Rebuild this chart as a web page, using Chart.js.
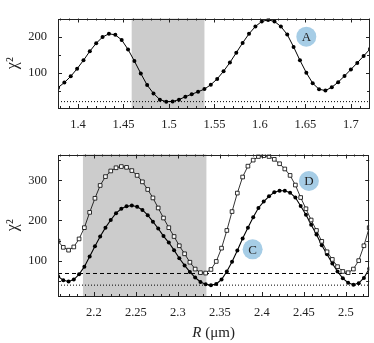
<!DOCTYPE html>
<html>
<head>
<meta charset="utf-8">
<script src="https://cdn.jsdelivr.net/npm/chart.js@4"></script>
<style>
  html, body { margin: 0; padding: 0; background: #fff; }
  #wrap { position: relative; width: 374px; height: 343px; }
  canvas { position: absolute; left: 0; }
</style>
</head>
<body>
<div id="wrap">
  <canvas id="topChart" width="374" height="136" style="top:0"></canvas>
  <canvas id="bottomChart" width="374" height="207" style="top:136px"></canvas>
</div>
<script>
// top panel (A)
const topR = [1.378, 1.385, 1.392, 1.399, 1.406, 1.413, 1.420, 1.427, 1.434, 1.441,
              1.448, 1.455, 1.462, 1.469, 1.476, 1.483, 1.490, 1.497, 1.504, 1.511,
              1.518, 1.525, 1.532, 1.539, 1.546, 1.553, 1.560, 1.567, 1.574, 1.581,
              1.588, 1.595, 1.602, 1.609, 1.616, 1.623, 1.630, 1.637, 1.644, 1.651,
              1.658, 1.665, 1.672, 1.679, 1.686, 1.693, 1.700, 1.707, 1.714, 1.721];
const chiA = [60, 74, 91, 112, 135, 160, 182, 199, 208, 205,
              191, 165, 133, 99, 67, 44, 27, 21.5, 22, 27,
              35, 42, 48.5, 56, 68, 84, 105, 129, 156, 183,
              208, 228, 242, 246, 242, 228, 206, 172, 135, 101,
              72, 55.5, 52, 61, 75, 92, 110, 128, 147, 166];
const topLevel = 21.5;
const topBand = [1.459, 1.539];

// bottom panel (C, D)
const botR = [2.1573, 2.1636, 2.1699, 2.1761, 2.1824, 2.1887, 2.1950, 2.2013, 2.2075, 2.2138,
              2.2201, 2.2264, 2.2327, 2.2389, 2.2452, 2.2515, 2.2578, 2.2641, 2.2703, 2.2766,
              2.2829, 2.2892, 2.2955, 2.3017, 2.3080, 2.3143, 2.3206, 2.3269, 2.3331, 2.3394,
              2.3457, 2.3520, 2.3583, 2.3645, 2.3708, 2.3771, 2.3834, 2.3897, 2.3959, 2.4022,
              2.4085, 2.4148, 2.4211, 2.4273, 2.4336, 2.4399, 2.4462, 2.4525, 2.4587, 2.4650,
              2.4713, 2.4776, 2.4839, 2.4901, 2.4964, 2.5027, 2.5090, 2.5153, 2.5215, 2.5278];
const chiC = [61, 51, 48, 53, 66, 85, 110, 136, 160, 182,
              201, 218, 229, 235, 237, 234, 226, 213, 197, 180,
              161, 145, 126, 106, 88, 72, 58, 47, 41, 39,
              42, 53, 73, 97, 125, 155, 182, 208, 231, 247,
              260, 270, 274, 274, 269, 257, 236, 214, 189, 165,
              138, 116, 93, 73, 56, 45, 40, 44, 57, 80];
const chiD = [148.5, 133, 126, 134, 154, 182, 220, 255, 287, 309,
              323, 331, 334, 332, 324, 312, 296, 277, 256, 231,
              206, 182, 160, 137, 117, 96, 79, 70, 69, 78,
              98, 131, 175, 222, 268, 308, 335, 350, 359, 361,
              359, 352, 341, 328, 312, 288, 257, 229, 201, 175,
              148, 122, 103, 85, 73, 70, 79, 100, 137, 182];
const dashLevel = 68;
const dotLevel = 39;
const botBand = [2.187, 2.334];

const serif = "'Liberation Serif', 'DejaVu Serif', serif";
const ink = '#222';

function pts(xs, ys) {
  return xs.map((x, i) => ({ x: x, y: ys[i] }));
}

// shaded band, frame with inward ticks, round badges
const framePlugin = {
  id: 'frame',
  beforeDatasetsDraw(chart, args, o) {
    const { ctx, chartArea: a, scales: { x } } = chart;
    const l = x.getPixelForValue(o.band[0]);
    const r = x.getPixelForValue(o.band[1]);
    ctx.save();
    ctx.fillStyle = '#cccccc';
    ctx.fillRect(l, a.top, r - l, a.bottom - a.top);
    ctx.restore();
  },
  afterDatasetsDraw(chart, args, o) {
    const { ctx, chartArea: a, scales: { x, y } } = chart;
    ctx.save();
    // badges
    o.badges.forEach(b => {
      const px = x.getPixelForValue(b.x), py = y.getPixelForValue(b.y);
      ctx.fillStyle = '#a6cde6';
      ctx.beginPath();
      ctx.arc(px, py, 10, 0, Math.PI * 2);
      ctx.fill();
      ctx.fillStyle = ink;
      ctx.font = '13px ' + serif;
      ctx.textAlign = 'center';
      ctx.textBaseline = 'middle';
      ctx.fillText(b.text, px, py + 1);
    });
    // frame
    ctx.strokeStyle = ink;
    ctx.lineWidth = 1;
    ctx.strokeRect(Math.round(a.left) + 0.5, Math.round(a.top) + 0.5,
                   Math.round(a.right - a.left) - 1, Math.round(a.bottom - a.top) - 1);
    ctx.beginPath();
    let k0 = Math.ceil(x.min / o.xMinor - 1e-6);
    for (let k = k0; k * o.xMinor <= x.max + 1e-9; k++) {
      const v = k * o.xMinor;
      const major = Math.abs(v / o.xMajor - Math.round(v / o.xMajor)) < 1e-6;
      const len = major ? 4 : 2;
      const px = Math.round(x.getPixelForValue(v)) + 0.5;
      ctx.moveTo(px, a.bottom); ctx.lineTo(px, a.bottom - len);
      ctx.moveTo(px, a.top); ctx.lineTo(px, a.top + len);
    }
    k0 = Math.ceil(y.min / o.yMinor - 1e-6);
    for (let k = k0; k * o.yMinor <= y.max + 1e-9; k++) {
      const v = k * o.yMinor;
      const major = Math.abs(v / o.yMajor - Math.round(v / o.yMajor)) < 1e-6;
      const len = major ? 4 : 3;
      const py = Math.round(y.getPixelForValue(v)) + 0.5;
      ctx.moveTo(a.left, py); ctx.lineTo(a.left + len, py);
      ctx.moveTo(a.right, py); ctx.lineTo(a.right - len, py);
    }
    ctx.stroke();
    // x axis title
    if (o.xTitle) {
      ctx.fillStyle = ink;
      ctx.textBaseline = 'middle';
      ctx.textAlign = 'left';
      const it = 'italic 15px ' + serif, up = '15px ' + serif;
      ctx.font = it;
      const w1 = ctx.measureText('R').width;
      ctx.font = up;
      const w2 = ctx.measureText(' (μm)').width;
      const cx = (a.left + a.right) / 2 - (w1 + w2) / 2;
      const cy = a.bottom + o.xTitleGap;
      ctx.font = it;
      ctx.fillText('R', cx, cy);
      ctx.font = up;
      ctx.fillText(' (μm)', cx + w1, cy);
    }
    ctx.restore();
  }
};

function makeOptions(xMin, xMax, yMin, yMax, xAxisHeight, padTop, frameOpts) {
  return {
    responsive: false,
    animation: false,
    devicePixelRatio: 1,
    layout: { padding: { left: 0, right: 3, top: padTop, bottom: 0 } },
    plugins: { legend: { display: false }, tooltip: { enabled: false }, frame: frameOpts },
    scales: {
      x: {
        type: 'linear', min: xMin, max: xMax,
        grid: { display: false, drawTicks: false }, border: { display: false },
        ticks: {
          stepSize: 0.05, includeBounds: false, autoSkip: false, maxRotation: 0,
          padding: 9, color: ink, font: { family: serif, size: 12.5 },
          callback: v => String(+v.toFixed(2))
        },
        afterFit: s => { s.height = xAxisHeight; }
      },
      y: {
        type: 'linear', min: yMin, max: yMax,
        grid: { display: false, drawTicks: false }, border: { display: false },
        ticks: { stepSize: 100, includeBounds: false, padding: 11, color: ink, font: { family: serif, size: 12.5 } },
        title: { display: true, text: 'χ²', color: ink, font: { family: serif, size: 16 }, padding: { top: 3, bottom: 0 } },
        afterFit: s => { s.width = 58; }
      }
    }
  };
}

new Chart(document.getElementById('topChart'), {
  type: 'line',
  data: {
    datasets: [
      { data: pts(topR, chiA), borderColor: '#000', borderWidth: 1, pointRadius: 2,
        pointBackgroundColor: '#000', pointBorderWidth: 0 },
      { data: [{ x: topR[0], y: topLevel }, { x: topR[topR.length - 1], y: topLevel }],
        borderColor: '#000', borderWidth: 1, borderDash: [1, 2], pointRadius: 0 }
    ]
  },
  options: makeOptions(1.378, 1.721, 4, 250, 28, 1, {
    band: topBand, xMinor: 0.01, xMajor: 0.05, yMinor: 50, yMajor: 100,
    badges: [{ x: 1.651, y: 200, text: 'A' }]
  }),
  plugins: [framePlugin]
});

new Chart(document.getElementById('bottomChart'), {
  type: 'line',
  data: {
    datasets: [
      { data: pts(botR, chiD), borderColor: '#000', borderWidth: 0.8, pointStyle: 'rect',
        pointRadius: 2.6, pointBackgroundColor: '#fff', pointBorderColor: '#000', pointBorderWidth: 0.8 },
      { data: pts(botR, chiC), borderColor: '#000', borderWidth: 1.1, pointRadius: 2,
        pointBackgroundColor: '#000', pointBorderWidth: 0 },
      { data: [{ x: botR[0], y: dashLevel }, { x: botR[botR.length - 1], y: dashLevel }],
        borderColor: '#000', borderWidth: 1, borderDash: [4, 3], pointRadius: 0 },
      { data: [{ x: botR[0], y: dotLevel }, { x: botR[botR.length - 1], y: dotLevel }],
        borderColor: '#000', borderWidth: 1, borderDash: [1, 2], pointRadius: 0 }
    ]
  },
  options: makeOptions(2.1573, 2.5278, 12, 364, 47, 12, {
    band: botBand, xMinor: 0.01, xMajor: 0.05, yMinor: 50, yMajor: 100,
    badges: [{ x: 2.389, y: 128, text: 'C' }, { x: 2.456, y: 298, text: 'D' }],
    xTitle: true, xTitleGap: 37
  }),
  plugins: [framePlugin]
});
</script>
</body>
</html>
